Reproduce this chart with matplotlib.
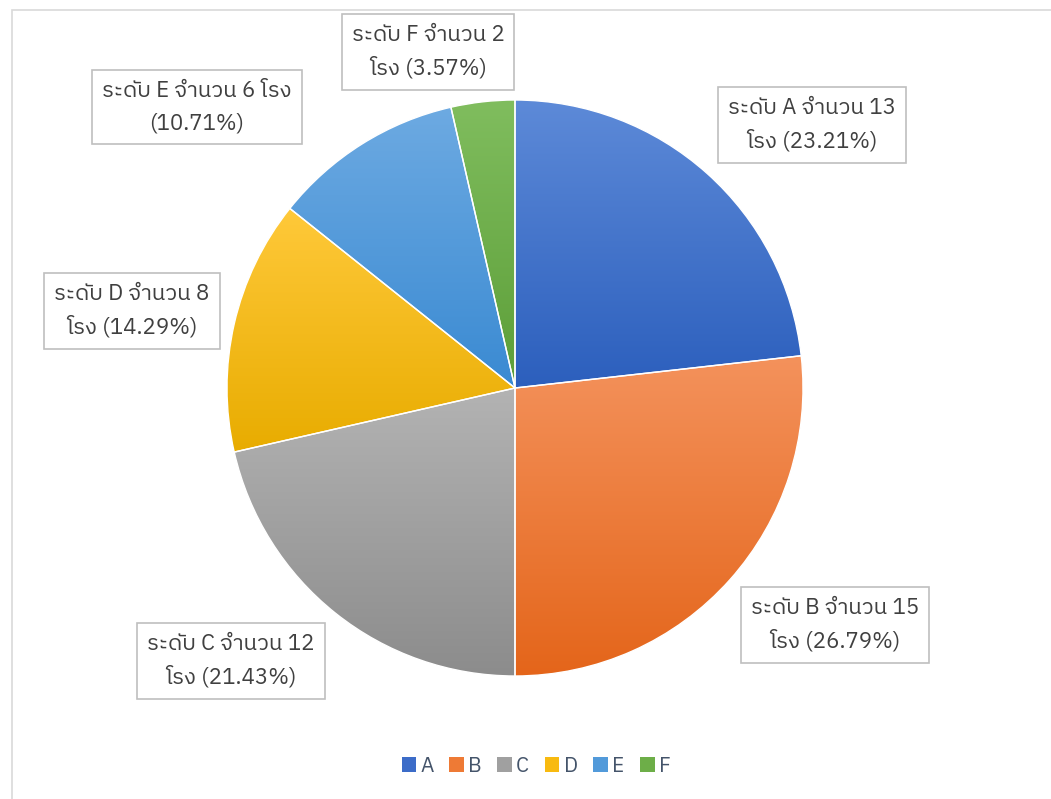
import numpy as np
import matplotlib
matplotlib.use("Agg")
import matplotlib.pyplot as plt
from matplotlib import font_manager
from matplotlib.ft2font import FT2Font
from matplotlib.colors import to_rgb
from matplotlib.patches import Rectangle

# ---- data ----
categories = ["A", "B", "C", "D", "E", "F"]
counts = [13, 15, 12, 8, 6, 2]
label_texts = [
    "ระดับ A จำนวน 13\nโรง (23.21%)",
    "ระดับ B จำนวน 15\nโรง (26.79%)",
    "ระดับ C จำนวน 12\nโรง (21.43%)",
    "ระดับ D จำนวน 8\nโรง (14.29%)",
    "ระดับ E จำนวน 6 โรง\n(10.71%)",
    "ระดับ F จำนวน 2\nโรง (3.57%)",
]
top_colors = ["#5D8AD8", "#F4925C", "#B3B3B3", "#FFC93A", "#6DAAE2", "#80BD5E"]
bottom_colors = ["#2C5FBD", "#E4651A", "#8C8C8C", "#E8AC00", "#3A8AD2", "#5C9E38"]
legend_colors = ["#3C6CC8", "#EE7A35", "#A0A0A0", "#F8BA10", "#529ADA", "#6DAE48"]
# label box centres (pixel positions of Excel's best-fit layout)
label_pos_px = [(812, 125), (835, 625), (231, 661), (132, 311), (197, 107), (428, 52)]

# ---- font with Thai coverage ----
thai_font = None
for f in font_manager.fontManager.ttflist:
    try:
        cm = FT2Font(f.fname).get_charmap()
        if 0x0E23 in cm and 0x0E14 in cm:
            thai_font = f.name
            if "Noto" in f.name or "Sans" in f.name:
                break
    except Exception:
        pass
families = ([thai_font] if thai_font else []) + ["DejaVu Sans"]
plt.rcParams["font.family"] = families

W, H = 1051, 799
fig = plt.figure(figsize=(W / 100, H / 100), dpi=100)
fig.patch.set_facecolor("white")

# chart-area border
fig.add_artist(Rectangle((12 / W, -0.1), 1.2, (H - 10) / H + 0.1, transform=fig.transFigure,
                         fill=False, edgecolor="#D9D9D9", lw=1.2))

cx, cy, R = 515, 388, 288
ax = fig.add_axes([(cx - R) / W, (H - cy - R) / H, 2 * R / W, 2 * R / H])
ax.axis("off")

wedges, _ = ax.pie(counts, startangle=90, counterclock=False, radius=1,
                   colors=["none"] * len(counts),
                   wedgeprops=dict(edgecolor="white", linewidth=1.0))

for w, tc, bc in zip(wedges, top_colors, bottom_colors):
    bb = w.get_path().get_extents(w.get_patch_transform())
    t = np.linspace(0, 1, 256)[:, None]
    c0, c1 = np.array(to_rgb(tc)), np.array(to_rgb(bc))
    img = (c0[None, None, :] * (1 - t[..., None]) + c1[None, None, :] * t[..., None])
    img = np.repeat(img, 2, axis=1)
    im = ax.imshow(img, extent=[bb.x0, bb.x1, bb.y0, bb.y1], origin="upper",
                   aspect="auto", zorder=1, interpolation="bilinear")
    im.set_clip_path(w)
    w.set_zorder(2)
ax.set_xlim(-1, 1)
ax.set_ylim(-1, 1)
ax.set_aspect("equal")

for txt, (px, py) in zip(label_texts, label_pos_px):
    fig.text(px / W, 1 - py / H, txt, ha="center", va="center", fontsize=16,
             color="#404040", linespacing=1.62,
             bbox=dict(boxstyle="square,pad=0.45", facecolor="white",
                       edgecolor="#BFBFBF", linewidth=1.2))

# legend
handles = [Rectangle((0, 0), 1, 1, facecolor=c) for c in legend_colors]
fig.legend(handles, categories, loc="center", bbox_to_anchor=(536 / W, 1 - 766 / H),
           ncol=6, frameon=False, fontsize=15, handlelength=0.7, handleheight=0.7,
           handletextpad=0.2, columnspacing=0.75, labelcolor="#44546A")

fig.savefig("out.png", dpi=100)
